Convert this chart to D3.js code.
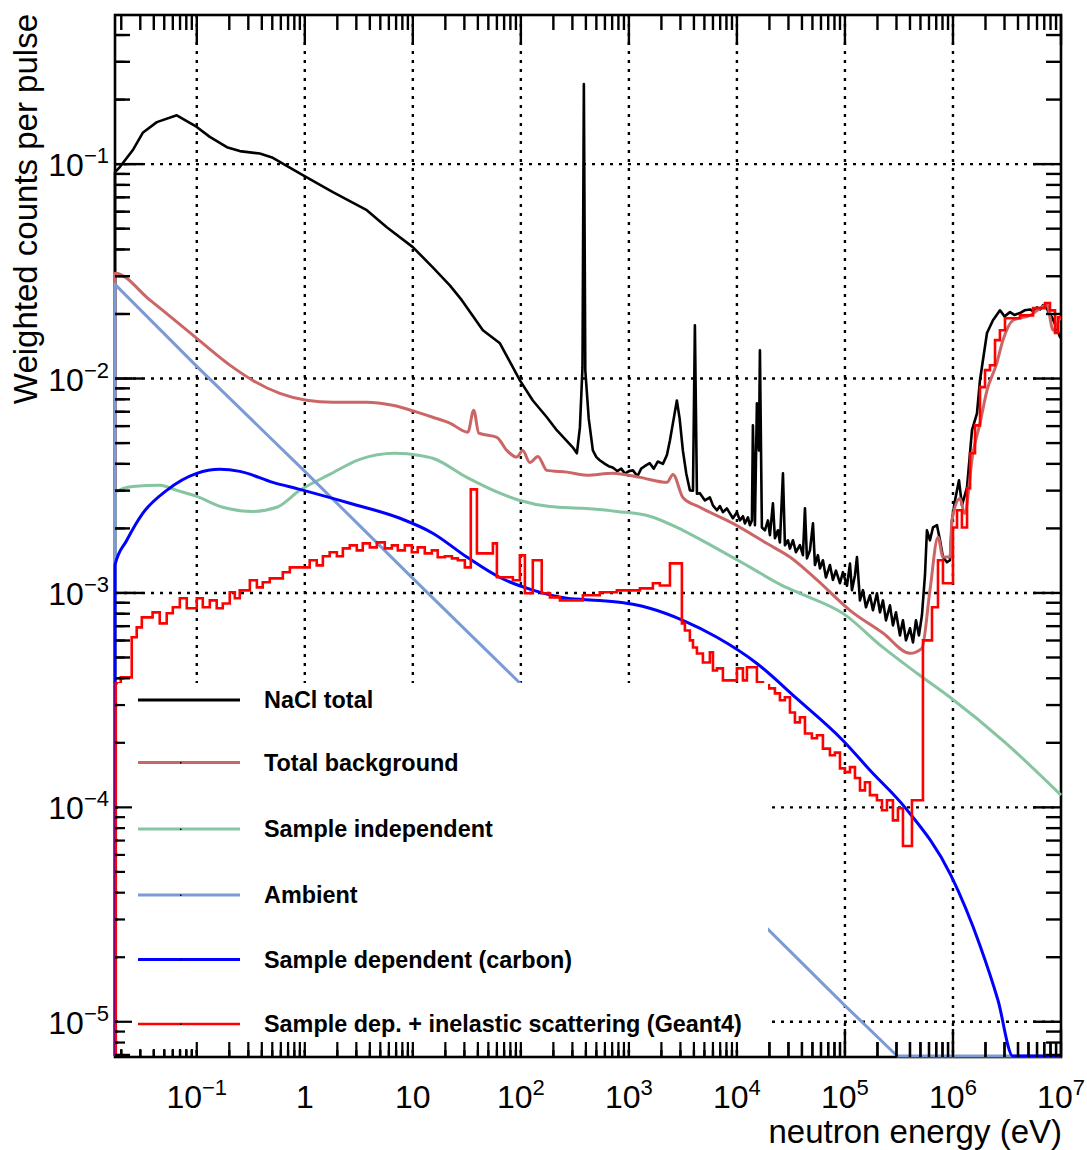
<!DOCTYPE html>
<html><head><meta charset="utf-8">
<script src="https://cdn.jsdelivr.net/npm/d3@7"></script>
<style>body{margin:0;background:#fff}svg{display:block}</style>
</head><body>
<svg id="c" width="1087" height="1150"></svg>
<script>
// ---------------- DATA (energy in eV, weighted counts per pulse) ----------------
const naclTotal = [
 [0.0175,0.0918],[0.0194,0.0969],[0.0255,0.116],[0.0316,0.14],[0.0427,0.157],[0.0653,0.169],[0.1,0.149],[0.132,0.134],[0.19,0.12],[0.25,0.115],[0.383,0.112],[0.506,0.107],[0.958,0.0888],[1.82,0.074],[3.75,0.061],[5.74,0.0508],[10,0.041],[15.3,0.033],[22,0.0272],[28.4,0.0232],[44.5,0.0168],[64,0.0146],[98,0.0098],[129,0.0079],[174,0.0066],[215,0.00574],[302,0.00478],[330,0.00448],[352,0.0059],[372,0.0113],[383,0.236],[395,0.0109],[425,0.0065],[464,0.00462],[500,0.0043],[537,0.00416],[600,0.0040],[650,0.0039],[708,0.00385],[780,0.0037],[850,0.0038],[920,0.0036],[1000,0.0037],[1090,0.00373],[1200,0.0035],[1300,0.0038],[1400,0.0039],[1560,0.00403],[1700,0.0038],[1850,0.0041],[2065,0.0040],[2250,0.0044],[2400,0.00515],[2600,0.0065],[2780,0.0079],[2950,0.0065],[3160,0.00462],[3400,0.0036],[3670,0.00301],[3920,0.0030],[4083,0.0177],[4265,0.0029],
 [4540,0.00292],[5057,0.0027],[5623,0.00279],[5995,0.00256],[6531,0.00243],[6966,0.00254],[7420,0.00238],[8072,0.00248],[8610,0.00235],[9180,0.00223],[10000,0.00238],[10660,0.00218],[11370,0.00228],[11860,0.00211],[12650,0.00225],[13190,0.00207],[13770,0.00218],[14060,0.00605],[14680,0.00207],[15310,0.00767],[15990,0.00462],[16330,0.01355],[17030,0.00202],[18160,0.00196],[19370,0.00218],[20210,0.00186],[21540,0.00262],[22480,0.0018],[23970,0.00196],[25010,0.00172],[26680,0.00361],[27830,0.00167],[29680,0.00176],[30960,0.00161],[33020,0.00176],[35190,0.00155],[38290,0.00167],[40840,0.0015],[42640,0.00248],[44490,0.00145],[47430,0.00158],[50590,0.00211],[52760,0.00135],[56230,0.0015],[58710,0.0013],[62530,0.00142],[66690,0.00118],[72610,0.00135],[77440,0.00115],[82590,0.00127],[89920,0.00111],[95820,0.00125],[104400,0.00108],[111300,0.00137],[116100,0.00103],[123800,0.00121],[129200,0.00147],[137700,0.000923],[146800,0.00103],[156500,0.000857],[170400,0.000975],[181700,0.00083],[197800,0.000996],[210900,0.000812],[224900,0.000923],[239700,0.000745],[261100,0.000875],[278200,0.000706],[296700,0.000812],[323000,0.000634],[344400,0.000745],[367200,0.000601],[400000,0.000684],[426600,0.000588],[454200,0.000745],[484200,0.000634],[516000,0.000787],[550600,0.00121],[574200,0.00196],[612400,0.00176],[653000,0.00202],[711300,0.00207],[758600,0.00176],[807600,0.00147],[879700,0.00139],[937600,0.00142],[979000,0.00218],[1.044e6,0.0027],[1.137e6,0.00335],[1.211e6,0.00256],[1.349e6,0.00311],[1.5e6,0.00574],[1.668e6,0.00688],[1.778e6,0.00982],[2.065e6,0.0163],[2.345e6,0.0187],[2.723e6,0.0208],[3.0e6,0.0195],[3.373e6,0.0204],[3.7e6,0.0198],[4.169e6,0.0202],[4.6e6,0.0208],[5.164e6,0.021],[5.6e6,0.0205],[5.997e6,0.0215],[6.4e6,0.021],[6.81e6,0.022],[7.3e6,0.0215],[7.8e6,0.02],[8.26e6,0.0193],[9.0e6,0.0175],[9.79e6,0.0156],[1e7,0.016]
];
const totalBackground = [
 [0.0175,0.031],[0.0369,0.0232],[0.1,0.0154],[0.215,0.0113],[0.33,0.0098],[0.587,0.00853],[1.04,0.00792],[1.82,0.00776],[3.75,0.00776],[6.5,0.0075],[10.9,0.00697],[15.3,0.0066],[22,0.0062],[32.3,0.00562],[36.6,0.00711],[40.8,0.00556],[60,0.00532],[74.2,0.00462],[91.5,0.0043],[104,0.00462],[121,0.00406],[144,0.00433],[174,0.00373],[267,0.00366],[408,0.00354],[708,0.00362],[1265,0.00346],[2255,0.00328],[2560,0.00357],[3160,0.00279],[4540,0.00251],[9180,0.00211],[19000,0.0017],[30960,0.00147],[55070,0.00115],[111300,0.00083],[224900,0.00065],[400000,0.000523],[516000,0.000552],[612400,0.00103],[726600,0.00182],[807600,0.00147],[937600,0.00147],[979000,0.00218],[1.161e6,0.00276],[1.28e6,0.00235],[1.53e6,0.00448],[1.778e6,0.00618],[2.065e6,0.0088],[2.53e6,0.0117],[2.9e6,0.0151],[3.6e6,0.0187],[5.16e6,0.0197],[7.43e6,0.022],[8.44e6,0.0168],[9.79e6,0.0193]
];
const sampleIndependent = [
 [0.0175,0.00294],[0.0255,0.00314],[0.0454,0.00318],[0.0653,0.00301],[0.1,0.00282],[0.174,0.00251],[0.33,0.0024],[0.551,0.00251],[0.899,0.00301],[1.7,0.00357],[3.23,0.0042],[6.81,0.00448],[11.6,0.00438],[15.3,0.00425],[31.6,0.00346],[64,0.00292],[98,0.0027],[186,0.00253],[375,0.00248],[774,0.0024],[1560,0.00228],[3160,0.00196],[6530,0.00161],[13190,0.00132],[26680,0.00108],[38290,0.000996],[95820,0.000803],[224900,0.000557],[464000,0.000422],[937600,0.000326],[3.03e6,0.000201],[1e7,0.000114]
];
const ambient = [
 [0.0175,0.0275],[0.1,0.0114],[1,0.00369],[10,0.00117],[100,0.000376],[1000,0.000119],[1e4,3.76e-5],[1e5,1.19e-5],[1e6,3.8e-6],[1e7,1.2e-6]
];
const sampleDependent = [
 [0.0175,0.00135],[0.0225,0.00176],[0.0316,0.00235],[0.0527,0.00301],[0.1,0.00361],[0.163,0.00377],[0.25,0.00369],[0.506,0.00328],[0.899,0.00304],[2.61,0.00262],[7.6,0.00223],[15.3,0.0019],[31.6,0.00147],[64,0.00118],[129,0.00103],[267,0.000944],[538,0.000922],[1090,0.000885],[1560,0.000848],[3160,0.000745],[6530,0.000621],[15310,0.000469],[35700,0.000322],[95820,0.000205],[170400,0.000149],[359000,1e-4],[960000,4.8e-5],[1.778e6,2.27e-5],[2.61e6,1.26e-5],[3.6e6,6.8e-6],[5.2e6,1e-6],[1e7,1e-7]
];
// Geant4 histogram: bin low edges (last entry = upper edge of last bin) and bin contents
const geantEdges = [0.0178,0.0198,0.025,0.0278,0.031,0.039,0.0454,0.0527,0.06,0.0697,0.0808,0.1,0.1137,0.132,0.153,0.174,0.202,0.225,0.25,0.31,0.36,0.408,0.474,0.626,0.727,1.11,1.29,1.47,1.70,1.98,2.25,2.61,3.03,3.44,4.0,4.64,5.5,6.4,7.26,8.43,9.79,11.1,12.9,15.0,17.0,19.8,23.0,26.1,30.3,34.4,39.2,55.1,60.0,84.3,97.9,109,129,156,186,230,375,538,774,1265,1667,1936,2400,3095,3300,3670,3920,4265,4845,5620,6000,6530,7420,1e4,11370,12380,15310,17420,19780,22480,25000,27800,30960,34430,38290,42640,49430,55070,62530,72610,80750,89920,1e5,111300,123800,137800,153200,170400,197800,220300,244900,278000,309600,344400,417100,527300,639500,726600,808000,1e6,1.09e6,1.21e6,1.35e6,1.44e6,1.6e6,1.78e6,1.98e6,2.2e6,2.45e6,2.72e6,3.03e6,4.17e6,5.51e6,7.11e6,7.91e6,8.8e6,9.38e6,1e7];
const geantValues = [3.79e-4,4.04e-4,6.21e-4,6.91e-4,7.69e-4,8.12e-4,7.21e-4,8.04e-4,8.57e-4,9.44e-4,8.48e-4,9.44e-4,8.57e-4,9.23e-4,8.48e-4,8.93e-4,1.007e-3,9.44e-4,1.028e-3,1.146e-3,1.062e-3,1.121e-3,1.17e-3,1.248e-3,1.316e-3,1.42e-3,1.345e-3,1.483e-3,1.547e-3,1.483e-3,1.614e-3,1.667e-3,1.58e-3,1.703e-3,1.632e-3,1.721e-3,1.614e-3,1.667e-3,1.58e-3,1.667e-3,1.547e-3,1.632e-3,1.53e-3,1.58e-3,1.466e-3,1.483e-3,1.45e-3,1.42e-3,1.316e-3,3.04e-3,1.53e-3,1.703e-3,1.183e-3,1.146e-3,1.497e-3,9.96e-4,1.42e-3,9.96e-4,9.54e-4,9.23e-4,9.75e-4,1.007e-3,1.028e-3,1.05e-3,1.109e-3,1.084e-3,1.374e-3,7.21e-4,6.68e-4,6.01e-4,5.57e-4,5.22e-4,4.74e-4,5.28e-4,4.35e-4,4.45e-4,3.91e-4,4.45e-4,3.91e-4,4.5e-4,3.83e-4,3.71e-4,3.59e-4,3.4e-4,3.16e-4,3.26e-4,2.77e-4,2.49e-4,2.63e-4,2.21e-4,2.1e-4,2.17e-4,1.88e-4,1.75e-4,1.8e-4,1.52e-4,1.46e-4,1.54e-4,1.37e-4,1.2e-4,1.31e-4,1.14e-4,1.08e-4,9.7e-5,1.08e-4,8.7e-5,9.9e-5,6.6e-5,1.08e-4,6.01e-4,8.57e-4,1.42e-3,1.109e-3,2.02e-3,2.43e-3,2.02e-3,3.08e-3,4.48e-3,6.05e-3,9.12e-3,1.094e-2,1.154e-2,1.51e-2,1.68e-2,1.91e-2,1.97e-2,2.13e-2,2.25e-2,2.08e-2,1.63e-2,1.93e-2];

const legendLabels = ["NaCl total","Total background","Sample independent","Ambient","Sample dependent (carbon)","Sample dep. + inelastic scattering (Geant4)"];
const seriesColors = ["#000000","#cc6666","#86c4a2","#7b9bd6","#0000ff","#ff0000"];
const xMajorTicks = [1e-1,1,10,1e2,1e3,1e4,1e5,1e6,1e7];
const yMajorTicks = [1e-5,1e-4,1e-3,1e-2,1e-1];
const xDomain = [0.0175, 1e7];
const yDomain = [6.85e-6, 0.496];

// ---------------- LAYOUT ----------------
const svg = d3.select("#c");
const P = {l:115, r:1061, t:15, b:1057};
const x = d3.scaleLog().domain(xDomain).range([P.l, P.r]);
const y = d3.scaleLog().domain(yDomain).range([P.b, P.t]);
const FONT = "'Liberation Sans', Arial, Helvetica, sans-serif";

svg.append("defs").append("clipPath").attr("id","plot")
  .append("rect").attr("x",P.l-2).attr("y",P.t-2).attr("width",P.r-P.l+4).attr("height",P.b-P.t+3);

// grid
const grid = svg.append("g").attr("stroke","#000").attr("stroke-width",2.4).attr("stroke-dasharray","3,6");
xMajorTicks.filter(v=>v<xDomain[1]).forEach(v=>{
  grid.append("line").attr("x1",x(v)).attr("x2",x(v)).attr("y1",P.t).attr("y2",P.b);
});
yMajorTicks.forEach(v=>{
  grid.append("line").attr("y1",y(v)).attr("y2",y(v)).attr("x1",P.l).attr("x2",P.r);
});

// frame (curves are drawn over it, as in the original)
svg.append("rect").attr("x",P.l).attr("y",P.t).attr("width",P.r-P.l).attr("height",P.b-P.t)
  .attr("fill","none").attr("stroke","#000").attr("stroke-width",2.6);

// clamp below-range values to the bottom of the frame, inserting crossing points
const lo = yDomain[0];
function clampSeries(pts){
  const out=[];
  for(let i=0;i<pts.length;i++){
    const [e,v]=pts[i];
    if(i>0){
      const [e0,v0]=pts[i-1];
      if((v0<lo)!==(v<lo)){
        const t=(Math.log(lo)-Math.log(v0))/(Math.log(v)-Math.log(v0));
        out.push([Math.exp(Math.log(e0)+t*(Math.log(e)-Math.log(e0))), lo]);
      }
    }
    out.push([e, Math.max(v, lo)]);
  }
  return [[pts[0][0], lo]].concat(out);
}
const plotG = svg.append("g").attr("clip-path","url(#plot)").attr("fill","none")
  .attr("stroke-linejoin","round");
const lineLin = d3.line().x(d=>x(d[0])).y(d=>Math.min(y(d[1]),P.b-1));
const lineSmooth = d3.line().x(d=>x(d[0])).y(d=>Math.min(y(d[1]),P.b-1)).curve(d3.curveMonotoneX);

function drawSeries(data, color, width, smooth){
  plotG.append("path").attr("d",(smooth?lineSmooth:lineLin)(clampSeries(data)))
    .attr("stroke",color).attr("stroke-width",width);
}
drawSeries(naclTotal, seriesColors[0], 2.6, false);
drawSeries(totalBackground, seriesColors[1], 3, true);
drawSeries(sampleIndependent, seriesColors[2], 3, true);
drawSeries(ambient, seriesColors[3], 3, false);
drawSeries(sampleDependent, seriesColors[4], 3, true);
// histogram steps
const histPts=[];
for(let i=0;i<geantValues.length;i++){
  histPts.push([geantEdges[i], geantValues[i]]);
  histPts.push([geantEdges[i+1], geantValues[i]]);
}
plotG.append("path").attr("d", lineLin(clampSeries(histPts)))
  .attr("stroke",seriesColors[5]).attr("stroke-width",2.6).attr("stroke-linejoin","miter");

// ticks
function drawTicks(g, opt){
  const xt = x.ticks().filter(v=>v>=xDomain[0]&&v<=xDomain[1]);
  const yt = y.ticks().filter(v=>v>=yDomain[0]&&v<=yDomain[1]);
  const isMaj = v=>Math.abs(Math.log10(v)-Math.round(Math.log10(v)))<1e-6;
  if(opt.bottom) xt.forEach(v=>{
    const L = opt.bottomLen(v,isMaj(v));
    g.append("line").attr("x1",x(v)).attr("x2",x(v)).attr("y1",P.b).attr("y2",P.b-L);
  });
  if(opt.top) xt.forEach(v=>{
    const L = isMaj(v)?30:15;
    g.append("line").attr("x1",x(v)).attr("x2",x(v)).attr("y1",P.t).attr("y2",P.t+L);
  });
  if(opt.left) yt.forEach(v=>{
    const L = isMaj(v)?opt.leftMaj:opt.leftMin;
    g.append("line").attr("y1",y(v)).attr("y2",y(v)).attr("x1",P.l).attr("x2",P.l+L);
  });
  if(opt.right) yt.forEach(v=>{
    const L = isMaj(v)?28:15;
    g.append("line").attr("y1",y(v)).attr("y2",y(v)).attr("x1",P.r).attr("x2",P.r-L);
  });
}
const tk1 = svg.append("g").attr("stroke","#000").attr("stroke-width",2.4);
drawTicks(tk1,{bottom:true,top:true,left:true,right:true,leftMaj:28,leftMin:15,
  bottomLen:(v,m)=>m?28:15});

// legend box
svg.append("rect").attr("x",118).attr("y",683).attr("width",650).attr("height",367).attr("fill","#fff");
const legY = [700,762.5,829,895,959.5,1024];
const legW = [3,3,3,3,3,2.6];
legendLabels.forEach((lab,i)=>{
  svg.append("line").attr("x1",138).attr("x2",240).attr("y1",legY[i]).attr("y2",legY[i])
    .attr("stroke",seriesColors[i]).attr("stroke-width",legW[i]);
  svg.append("rect").attr("x",180).attr("y",legY[i]-0.5).attr("width",1.5).attr("height",1.5).attr("fill","#000");
  svg.append("text").attr("x",264).attr("y",legY[i]).attr("dy","0.36em")
    .attr("font-family",FONT).attr("font-weight","bold").attr("font-size",23.4)
    .attr("fill","#000").text(lab);
});

// redrawn axes (small ticks) over legend
const tk2 = svg.append("g").attr("stroke","#000").attr("stroke-width",2.2);
drawTicks(tk2,{bottom:true,left:true,leftMaj:17,leftMin:10,
  bottomLen:(v,m)=>v<0.1?8:15});

// tick labels
function expLabel(sel, v){
  const p = Math.round(Math.log10(v));
  if(p===0){ sel.text("1"); return; }
  if(p===1){ sel.text("10"); return; }
  sel.append("tspan").text("10");
  sel.append("tspan").attr("dy",-13).attr("font-size",22).text(p<0?"\u2212"+(-p):String(p));
}
xMajorTicks.forEach(v=>{
  const t = svg.append("text").attr("x",x(v)).attr("y",1108).attr("text-anchor","middle")
    .attr("font-family",FONT).attr("font-size",32).attr("fill","#000");
  expLabel(t,v);
});
yMajorTicks.forEach(v=>{
  const t = svg.append("text").attr("x",109).attr("y",y(v)+12).attr("text-anchor","end")
    .attr("font-family",FONT).attr("font-size",32).attr("fill","#000");
  expLabel(t,v);
});

// axis titles
svg.append("text").attr("x",1062).attr("y",1143).attr("text-anchor","end")
  .attr("font-family",FONT).attr("font-size",33).attr("fill","#000").text("neutron energy (eV)");
svg.append("text").attr("transform","translate(37,14) rotate(-90)").attr("text-anchor","end")
  .attr("font-family",FONT).attr("font-size",33).attr("fill","#000").text("Weighted counts per pulse");
</script>
</body></html>
